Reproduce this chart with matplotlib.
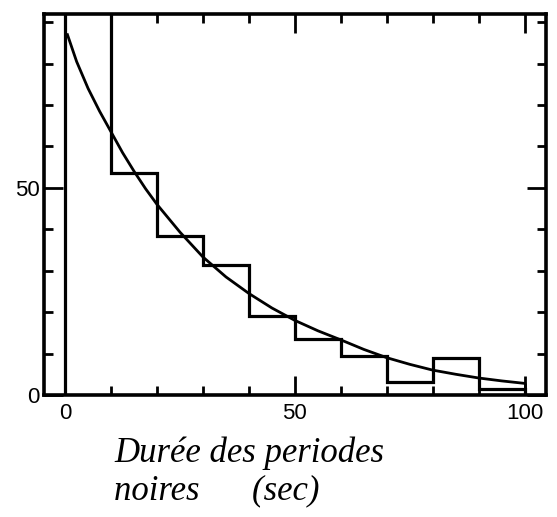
import matplotlib
matplotlib.use('Agg')
from matplotlib import pyplot as plt
from matplotlib.ticker import MultipleLocator, FixedLocator

# histogram of durations (bins of 10 s), first bin runs off the top
bin_edges = [0, 10, 20, 30, 40, 50, 60, 70, 80, 90, 100]
counts = [100, 53.5, 38.5, 31.5, 19, 13.5, 9.5, 3.2, 9, 1.5]

# fitted decay curve
curve_x = [0.5, 2.5, 5, 7.5, 10, 12.5, 15, 17.5, 20, 25, 30, 35, 40, 45, 50,
           55, 60, 65, 70, 75, 80, 85, 90, 95, 100]
curve_y = [87, 80.5, 74, 68.5, 63.5, 58.5, 54, 49.8, 46, 39.3, 33.3, 28.5, 24.5, 21, 18,
           15.5, 13.3, 11, 9, 7.4, 6, 5, 4.1, 3.4, 2.8]

x_ticklabels = ['0', '50', '100']
y_ticklabels = ['0', '50']

fig = plt.figure(figsize=(5.57, 5.17), dpi=100)
ax = fig.add_axes([0.079, 0.236, 0.901, 0.737])

ax.stairs(counts, bin_edges, color='black', linewidth=2.3, baseline=0)
ax.plot(curve_x, curve_y, color='black', linewidth=2.0)
ax.vlines(curve_x[-1], 0, curve_y[-1], color='black', linewidth=2.0)

ax.set_xlim(-4.6, 104.6)
ax.set_ylim(0, 92)

ax.xaxis.set_major_locator(FixedLocator([0, 50, 100]))
ax.xaxis.set_minor_locator(MultipleLocator(10))
ax.yaxis.set_major_locator(FixedLocator([0, 50]))
ax.yaxis.set_minor_locator(MultipleLocator(10))
ax.set_xticklabels(x_ticklabels)
ax.set_yticklabels(y_ticklabels)

ax.tick_params(which='both', direction='in', top=True, right=True, width=2.0, color='black')
ax.tick_params(which='major', length=14)
ax.tick_params(which='minor', length=6.5)
ax.tick_params(axis='x', which='major', pad=6, labelsize=16)
ax.tick_params(axis='y', which='major', pad=3, labelsize=16)
for lab in ax.get_xticklabels() + ax.get_yticklabels():
    lab.set_family('Liberation Sans')

for s in ax.spines.values():
    s.set_linewidth(2.6)

fig.text(0.205, 1 - 436 / 517, 'Durée des periodes\nnoires      (sec)', ha='left', va='top',
         fontsize=25, family='Liberation Serif', style='italic', linespacing=1.2)

fig.savefig('out.png', dpi=100)
